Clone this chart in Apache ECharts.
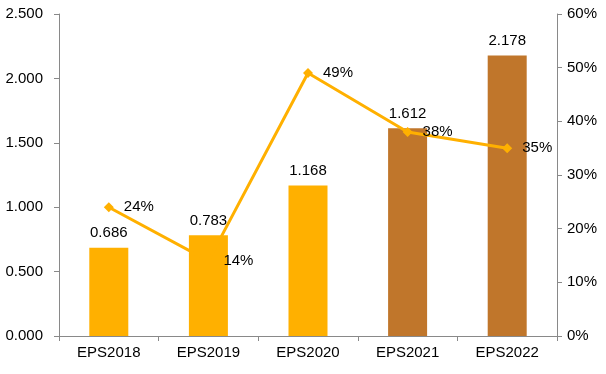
<!DOCTYPE html>
<html><head><meta charset="utf-8">
<script src="https://cdn.jsdelivr.net/npm/echarts@6/dist/echarts.min.js"></script>
<style>html,body{margin:0;padding:0;background:#fff}#c{width:606px;height:374px}</style>
</head><body><div id="c"></div>
<script>
const categories = ['EPS2018','EPS2019','EPS2020','EPS2021','EPS2022'];
const epsValues = [0.686, 0.783, 1.168, 1.612, 2.178];
const growthValues = [24, 14, 49, 38, 35];
const leftTicks = [0, 0.5, 1, 1.5, 2, 2.5];
const rightTicks = [0, 10, 20, 30, 40, 50, 60];

const barColors = ['#FFB000','#FFB000','#FFB000','#C0762B','#C0762B'];
const font = 'Liberation Sans, Arial, sans-serif';
const chart = echarts.init(document.getElementById('c'), null, {renderer:'canvas'});
chart.setOption({
  animation:false,
  grid:{left:59, right:49, top:14, bottom:38},
  xAxis:{type:'category', data:categories,
    axisLine:{lineStyle:{color:'#898989', width:1}},
    axisTick:{show:true, alignWithLabel:false, length:5, lineStyle:{color:'#898989'}},
    axisLabel:{color:'#000', fontFamily:font, fontSize:15, margin:9}},
  yAxis:[
    {type:'value', min:leftTicks[0], max:leftTicks[leftTicks.length-1], interval:0.5,
     axisLine:{show:true, lineStyle:{color:'#898989'}},
     axisTick:{show:true, length:5, lineStyle:{color:'#898989'}},
     splitLine:{show:false},
     axisLabel:{color:'#000', fontFamily:font, fontSize:15, margin:16, formatter:v=>v.toFixed(3)}},
    {type:'value', min:rightTicks[0], max:rightTicks[rightTicks.length-1], interval:10,
     axisLine:{show:true, lineStyle:{color:'#898989'}},
     axisTick:{show:true, length:5, lineStyle:{color:'#898989'}},
     splitLine:{show:false},
     axisLabel:{color:'#000', fontFamily:font, fontSize:15, margin:10, formatter:v=>v+'%'}}
  ],
  series:[
    {type:'bar', yAxisIndex:0, barWidth:39,
     data:epsValues.map((v,i)=>({value:v, itemStyle:{color:barColors[i]}})),
     label:{show:true, position:'top', distance:7, color:'#000', fontFamily:font, fontSize:15, formatter:p=>p.value.toFixed(3)}},
    {type:'line', yAxisIndex:1, data:growthValues, z:5,
     lineStyle:{color:'#FFB000', width:3},
     itemStyle:{color:'#FFB000'},
     symbol:'diamond', symbolSize:10,
     label:{show:true, position:'right', distance:10, color:'#000', fontFamily:font, fontSize:15, formatter:p=>p.value+'%'}}
  ]
});
</script></body></html>
